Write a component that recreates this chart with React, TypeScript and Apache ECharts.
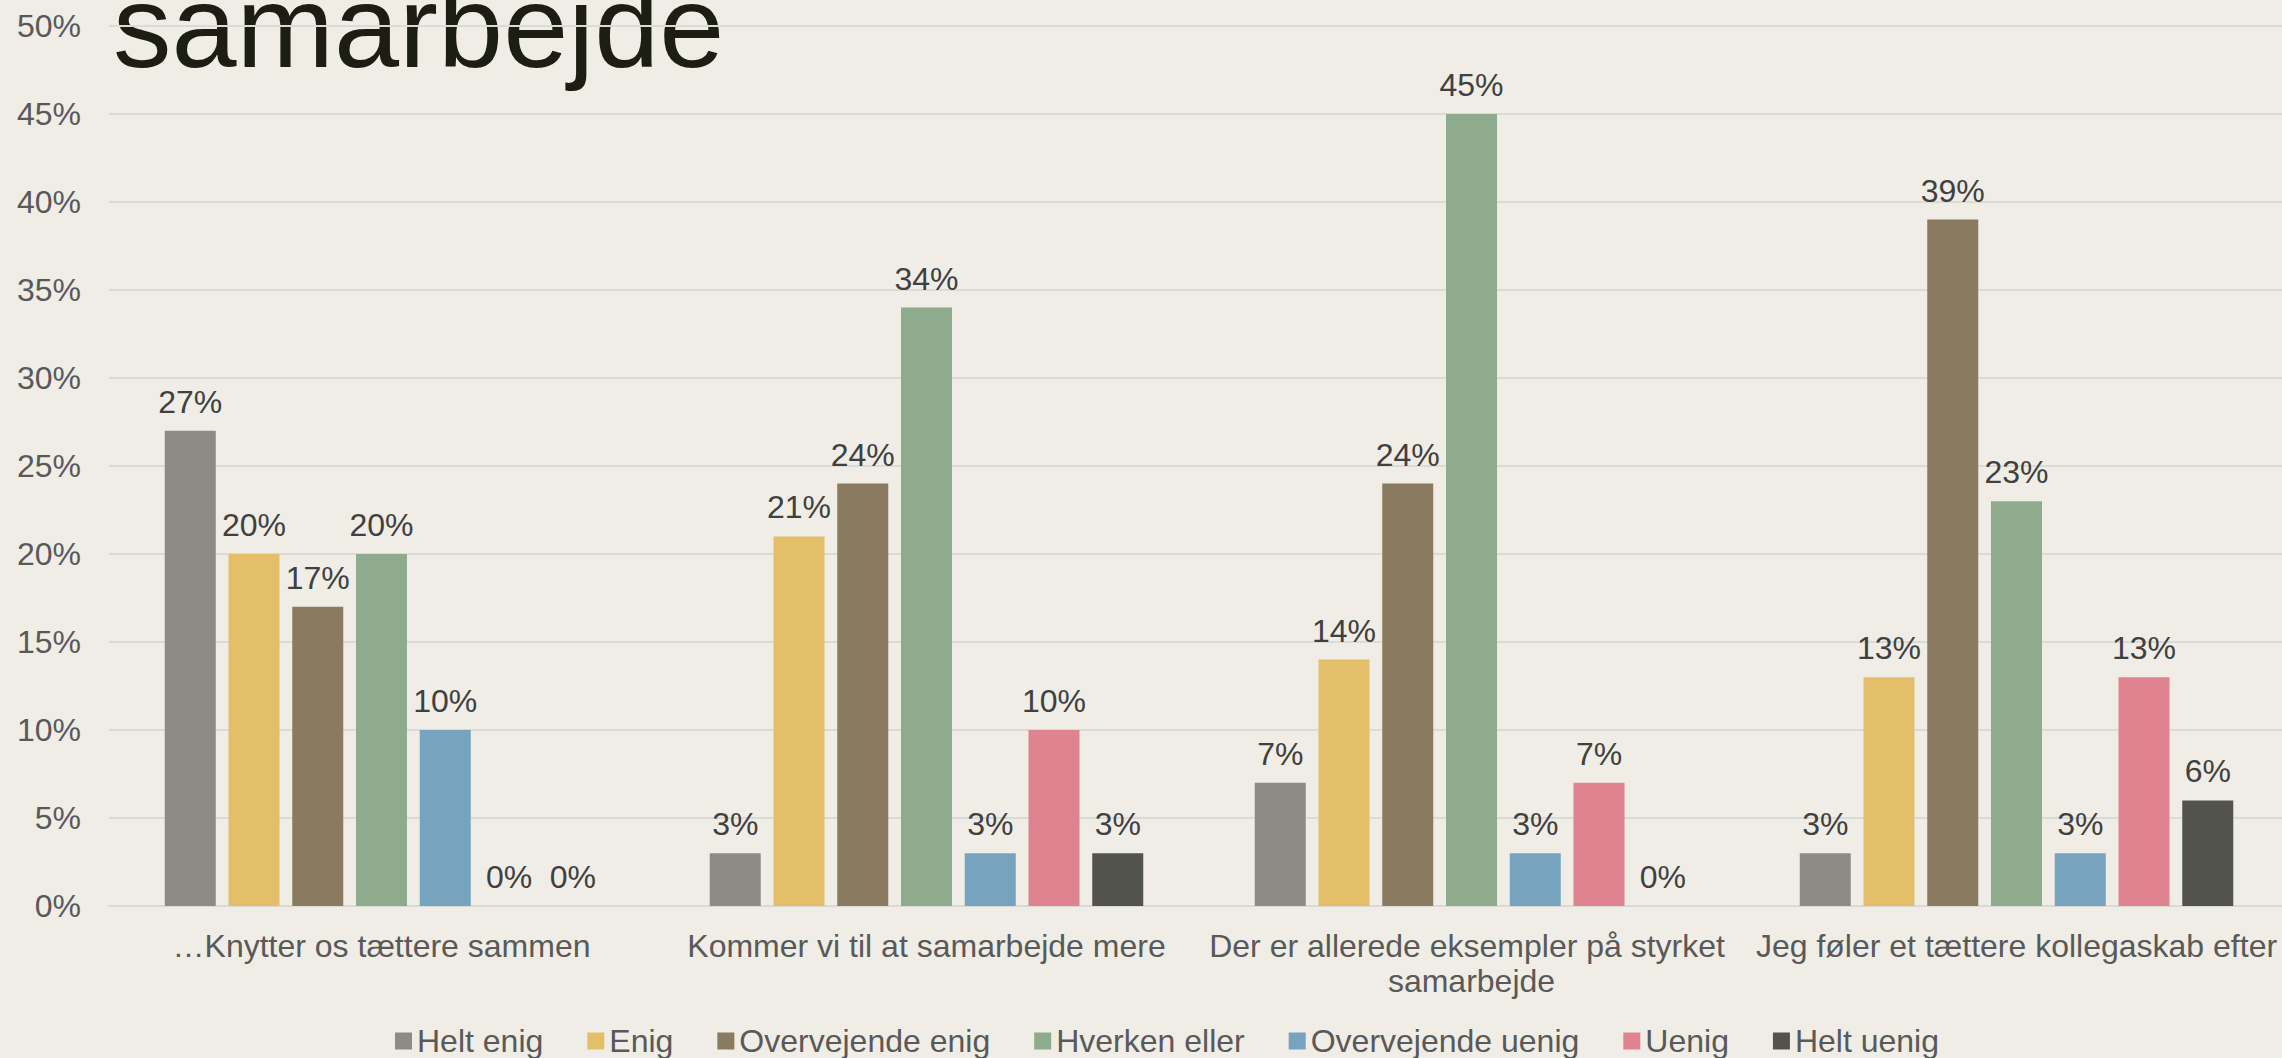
import React, { useEffect, useRef } from "react";
import * as echarts from "echarts";

const categories = [
  "…Knytter os tættere sammen",
  "Kommer vi til at samarbejde mere",
  "Der er allerede eksempler på styrket samarbejde",
  "Jeg føler et tættere kollegaskab efter",
];

const seriesNames = [
  "Helt enig",
  "Enig",
  "Overvejende enig",
  "Hverken eller",
  "Overvejende uenig",
  "Uenig",
  "Helt uenig",
];

const heltEnig = [27, 3, 7, 3];
const enig = [20, 21, 14, 13];
const overvejendeEnig = [17, 24, 24, 39];
const hverkenEller = [20, 34, 45, 23];
const overvejendeUenig = [10, 3, 3, 3];
const uenig = [0, 10, 7, 13];
const heltUenig = [0, 3, 0, 6];

const seriesValues = [heltEnig, enig, overvejendeEnig, hverkenEller, overvejendeUenig, uenig, heltUenig];
const colors = ["#8c8c85", "#e4bf6a", "#8a7a5f", "#8eab8d", "#76a3bd", "#e08391", "#53534e"];

const titleText = "samarbejde";
const FONT = '"Liberation Sans", Arial, sans-serif';

export default function App() {
  const ref = useRef<HTMLDivElement>(null);
  useEffect(() => {
    if (!ref.current) return;
    const chart = echarts.init(ref.current, null, { renderer: "svg" });
    chart.setOption({
      animation: false,
      backgroundColor: "#efede5",
      textStyle: { fontFamily: FONT },
      graphic: [
        {
          type: "text",
          x: 113,
          y: 26,
          z: -1,
          style: {
            text: titleText,
            fontSize: 117,
            fontFamily: FONT,
            fill: "#1c1d13",
            verticalAlign: "middle",
            align: "left",
          },
        },
      ],
      legend: {
        left: 395,
        top: 1025,
        itemWidth: 17,
        itemHeight: 17,
        itemGap: 44,
        icon: "rect",
        padding: 0,
        textStyle: { fontSize: 32, color: "#595959", fontFamily: FONT },
        data: seriesNames,
      },
      grid: {
        left: 109,
        right: -7,
        top: 26,
        bottom: 152,
        containLabel: false,
        outerBoundsMode: "none",
      },
      xAxis: {
        type: "category",
        data: categories,
        axisTick: { show: false },
        axisLine: { lineStyle: { color: "#d9d9d6", width: 2 } },
        axisLabel: {
          fontSize: 32,
          color: "#595959",
          fontFamily: FONT,
          margin: 22,
          width: 545,
          overflow: "break",
          lineHeight: 35,
          interval: 0,
        },
      },
      yAxis: {
        type: "value",
        min: 0,
        max: 50,
        interval: 5,
        axisLine: { show: false },
        axisTick: { show: false },
        splitLine: { lineStyle: { color: "#dadad6", width: 2 } },
        axisLabel: {
          formatter: "{value}%",
          fontSize: 32,
          color: "#595959",
          fontFamily: FONT,
          margin: 28,
        },
      },
      series: seriesNames.map((name, i) => ({
        name,
        type: "bar",
        data: seriesValues[i],
        barWidth: 51,
        barGap: "25%",
        itemStyle: { color: colors[i] },
        label: {
          show: true,
          position: "top",
          distance: 13,
          formatter: "{c}%",
          fontSize: 32,
          color: "#404040",
          fontFamily: FONT,
        },
      })),
    });
    return () => chart.dispose();
  }, []);
  return <div ref={ref} style={{ width: 2282, height: 1058, position: "absolute", left: 0, top: 0 }} />;
}
